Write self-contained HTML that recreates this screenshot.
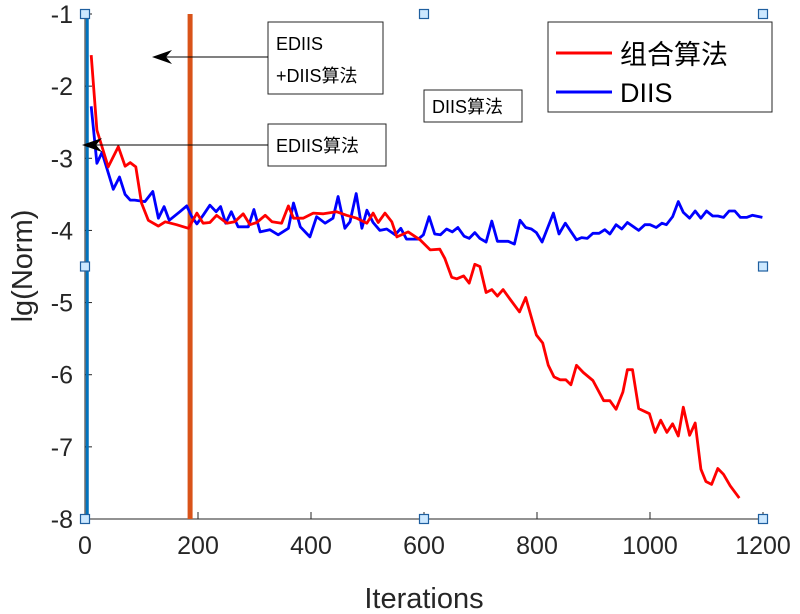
<!DOCTYPE html>
<html><head><meta charset="utf-8"><style>
html,body{margin:0;padding:0;background:#fff}
svg{display:block;font-family:"Liberation Sans","Noto Sans CJK SC",sans-serif}
</style></head><body>
<svg id="chart" width="800" height="614" viewBox="0 0 800 614" xmlns="http://www.w3.org/2000/svg">
<g id="axes"></g>
<g id="marks"></g>
<text x="424" y="608" font-size="29" text-anchor="middle" fill="#262626">Iterations</text>
<text transform="translate(32,266) rotate(-90)" font-size="29" text-anchor="middle" fill="#262626">lg(Norm)</text>
<g>
<rect x="268" y="22" width="115" height="72" fill="#fff" stroke="#262626" stroke-width="1"/>
<text x="276" y="50" font-size="18">EDIIS</text>
<text x="276" y="82" font-size="18">+DIIS算法</text>
<line x1="268" y1="57" x2="165" y2="57" stroke="#000" stroke-width="1"/>
<path d="M152,57 L172,50 L166,57 L172,64 Z" fill="#000"/>
</g>
<g>
<rect x="268" y="124" width="118" height="42" fill="#fff" stroke="#262626" stroke-width="1"/>
<text x="276" y="152" font-size="18">EDIIS算法</text>
<line x1="268" y1="145" x2="95" y2="145" stroke="#000" stroke-width="1"/>
<path d="M82,145 L102,138 L96,145 L102,152 Z" fill="#000"/>
</g>
<g>
<rect x="424" y="90" width="98" height="32" fill="#fff" stroke="#262626" stroke-width="1"/>
<text x="432" y="113" font-size="18">DIIS算法</text>
</g>
<g>
<rect x="548" y="22" width="224" height="90" fill="#fff" stroke="#262626" stroke-width="1"/>
<g>
<line x1="556" y1="53" x2="612" y2="53" stroke="#ff0000" stroke-width="3"/>
<text x="620" y="64" font-size="27">组合算法</text>
</g>
<g>
<line x1="556" y1="92" x2="612" y2="92" stroke="#0000ff" stroke-width="3"/>
<text x="620" y="102" font-size="27">DIIS</text>
</g>
</g>
</svg>
<script>
const xTicks=[0,200,400,600,800,1000,1200];
const yTicks=[-1,-2,-3,-4,-5,-6,-7,-8];
const redIter=[11,21,41,59,71,80,90,100,112,130,142,162,183,198,209,221,233,251,265,280,292,304,319,331,348,360,369,386,404,422,445,463,481,499,510,519,531,543,552,572,593,611,628,637,649,658,670,680,690,699,710,720,730,740,752,769,780,799,810,820,830,841,851,860,870,882,899,918,929,940,952,960,969,980,999,1009,1019,1030,1040,1050,1059,1070,1080,1090,1099,1109,1120,1130,1142,1158];
const redVal=[-1.57,-2.61,-3.12,-2.84,-3.11,-3.06,-3.12,-3.62,-3.86,-3.94,-3.88,-3.92,-3.97,-3.76,-3.90,-3.89,-3.79,-3.90,-3.88,-3.77,-3.92,-3.89,-3.79,-3.88,-3.90,-3.66,-3.83,-3.83,-3.76,-3.77,-3.74,-3.79,-3.83,-3.90,-3.76,-3.89,-3.76,-3.88,-4.09,-4.02,-4.13,-4.27,-4.26,-4.39,-4.65,-4.67,-4.63,-4.73,-4.47,-4.50,-4.86,-4.82,-4.91,-4.82,-4.95,-5.13,-4.93,-5.45,-5.56,-5.87,-6.03,-6.07,-6.07,-6.14,-5.87,-5.97,-6.08,-6.36,-6.36,-6.48,-6.24,-5.93,-5.93,-6.47,-6.54,-6.80,-6.63,-6.80,-6.68,-6.85,-6.45,-6.84,-6.67,-7.31,-7.48,-7.52,-7.30,-7.38,-7.54,-7.71];
const blueIter=[11,21,30,50,61,71,80,88,106,120,130,140,149,168,180,189,198,209,221,232,240,249,259,271,289,299,310,327,342,360,369,381,398,410,425,439,448,460,469,480,490,499,510,522,534,549,559,569,590,599,609,619,629,640,650,660,671,680,690,699,710,720,730,749,760,770,780,790,799,809,829,839,850,870,879,889,899,910,920,929,940,950,960,980,991,1000,1011,1021,1029,1040,1050,1059,1070,1080,1090,1100,1111,1120,1130,1140,1150,1160,1171,1181,1199];
const blueVal=[-2.28,-3.07,-2.92,-3.43,-3.26,-3.50,-3.58,-3.58,-3.60,-3.46,-3.83,-3.67,-3.86,-3.74,-3.66,-3.81,-3.91,-3.79,-3.65,-3.74,-3.67,-3.90,-3.74,-3.95,-3.95,-3.71,-4.02,-3.99,-4.06,-3.97,-3.62,-3.95,-4.09,-3.81,-3.90,-3.83,-3.53,-3.97,-3.88,-3.49,-3.97,-3.72,-3.89,-4.00,-3.98,-4.06,-3.97,-4.12,-4.12,-4.06,-3.81,-4.05,-4.06,-3.98,-4.02,-3.96,-4.08,-4.11,-4.03,-4.11,-4.16,-3.87,-4.15,-4.15,-4.19,-3.86,-3.96,-3.98,-4.03,-4.16,-3.76,-4.05,-3.90,-4.13,-4.10,-4.11,-4.04,-4.04,-3.99,-4.05,-3.92,-3.98,-3.89,-4.00,-3.92,-3.92,-3.96,-3.90,-3.92,-3.81,-3.60,-3.75,-3.83,-3.73,-3.83,-3.73,-3.80,-3.80,-3.82,-3.73,-3.73,-3.82,-3.82,-3.79,-3.82];
const ediisEnd=4;
const switchIter=186;

const NS="http://www.w3.org/2000/svg";
const X0=85,X1=763,Y0=14,Y1=519;
function sx(v){return X0+(v-0)/(1200-0)*(X1-X0);}
function sy(v){return Y0+(-1-v)/(-1-(-8))*(Y1-Y0);}
function mk(tag,attrs,parent){const e=document.createElementNS(NS,tag);for(const k in attrs)e.setAttribute(k,attrs[k]);parent.appendChild(e);return e;}
const axes=document.getElementById('axes');
const marks=document.getElementById('marks');
const ax=mk('line',{x1:X0,y1:Y1,x2:X1,y2:Y1,stroke:'#262626','stroke-width':1},axes);


const ay=mk('line',{x1:X0,y1:Y0,x2:X0,y2:Y1,stroke:'#262626','stroke-width':1},axes);


xTicks.forEach(t=>{
  const x=sx(t);
  mk('line',{x1:x,y1:Y1,x2:x,y2:Y1-7,stroke:'#262626'},axes);
  const tx=mk('text',{x:x,y:Y1+35,'font-size':25,'text-anchor':'middle',fill:'#262626'},axes);
  tx.textContent=t;
  
  
});
yTicks.forEach(t=>{
  const y=sy(t);
  mk('line',{x1:X0,y1:y,x2:X0+7,y2:y,stroke:'#262626'},axes);
  const tx=mk('text',{x:X0-12,y:y+9,'font-size':25,'text-anchor':'end',fill:'#262626'},axes);
  tx.textContent=t;
  
  
});
const bl=mk('line',{x1:sx(ediisEnd),y1:Y0,x2:sx(ediisEnd),y2:Y1,stroke:'#0072BD','stroke-width':3},marks);


const ol=mk('line',{x1:sx(switchIter),y1:Y0,x2:sx(switchIter),y2:Y1,stroke:'#D95319','stroke-width':5},marks);


function series(it,val,color,name){
  const d=it.map((v,i)=>(i?'L':'M')+sx(v).toFixed(1)+','+sy(val[i]).toFixed(1)).join(' ');
  const p=mk('path',{d:d,fill:'none',stroke:color,'stroke-width':2.8,'stroke-linejoin':'round'},marks);
  
  
}
series(blueIter,blueVal,'#0000ff','diis-line');
series(redIter,redVal,'#ff0000','combined-line');
[[0,-1],[0,-4.5],[0,-8],[600,-1],[600,-8],[1200,-1],[1200,-4.5],[1200,-8]].forEach(h=>{
  const r=mk('rect',{x:sx(h[0])-4.5,y:sy(h[1])-4.5,width:9,height:9,fill:'#cce8ff',stroke:'#1f5f9f','stroke-width':1.2},marks);
  
  
});
</script>
</body></html>
